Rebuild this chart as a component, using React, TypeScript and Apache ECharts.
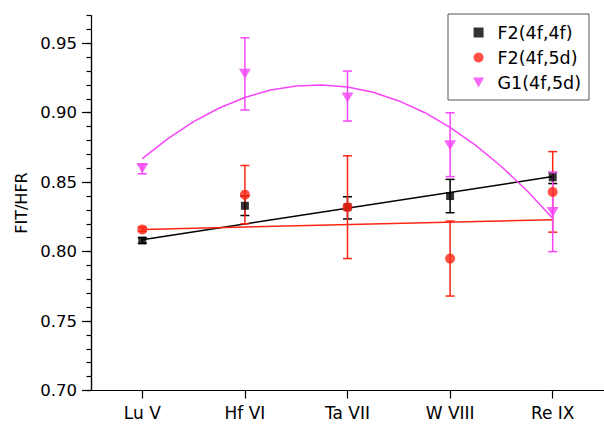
import React, { useEffect, useRef } from "react";
import * as echarts from "echarts";

const categories = ["Lu V", "Hf VI", "Ta VII", "W VIII", "Re IX"];
const catIndex = [0, 1, 2, 3, 4];

const seriesNames = ["F2(4f,4f)", "F2(4f,5d)", "G1(4f,5d)"];

// F2(4f,4f)
const f44Values = [0.808, 0.833, 0.832, 0.84, 0.8535];
const f44Low = [0.806, 0.826, 0.8235, 0.828, 0.849];
const f44High = [0.81, 0.84, 0.8395, 0.852, 0.857];
const f44FitX = [0, 4];
const f44FitY = [0.8085, 0.854];

// F2(4f,5d)
const f45Values = [0.816, 0.841, 0.832, 0.795, 0.843];
const f45Low = [0.8145, 0.82, 0.795, 0.768, 0.814];
const f45High = [0.8175, 0.862, 0.869, 0.822, 0.872];
const f45FitX = [0, 4];
const f45FitY = [0.816, 0.823];

// G1(4f,5d)
const g1Values = [0.86, 0.928, 0.911, 0.8765, 0.8285];
const g1Low = [0.856, 0.902, 0.894, 0.854, 0.8];
const g1High = [0.863, 0.954, 0.93, 0.9, 0.857];
const g1FitX = [0, 0.25, 0.5, 0.75, 1, 1.25, 1.5, 1.75, 2, 2.25, 2.5, 2.75, 3, 3.25, 3.5, 3.75, 4];
const g1FitY = [0.867, 0.8814, 0.8936, 0.9034, 0.911, 0.9163, 0.9193, 0.92, 0.9185, 0.9147, 0.9085, 0.9002, 0.8895, 0.8765, 0.8613, 0.8438, 0.824];

const BLACK = "#000000";
const RED = "#ff2414";
const MAGENTA = "#f844f8";
const FONT = "DejaVu Sans";
const TRI = "path://M0,0L10,0L5,9Z";
const SQR = "path://M0,0L10,0L10,10L0,10Z";

function points(xs: number[], ys: number[]) {
  return xs.map((x, i) => [x, ys[i]]);
}

function errData(lo: number[], hi: number[]) {
  return catIndex.map((x, i) => [x, lo[i], hi[i]]);
}

function errorSeries(name: string, lo: number[], hi: number[], color: string, z: number) {
  return {
    type: "custom",
    name,
    z,
    silent: true,
    clip: false,
    encode: { x: 0, y: [1, 2] },
    data: errData(lo, hi),
    renderItem: (params: any, api: any) => {
      const x = api.value(0);
      const p1 = api.coord([x, api.value(1)]);
      const p2 = api.coord([x, api.value(2)]);
      const cw = 4.5;
      const st = { stroke: color, lineWidth: 1.5 };
      return {
        type: "group",
        children: [
          { type: "line", shape: { x1: p1[0], y1: p1[1], x2: p2[0], y2: p2[1] }, style: st },
          { type: "line", shape: { x1: p1[0] - cw, y1: p1[1], x2: p1[0] + cw, y2: p1[1] }, style: st },
          { type: "line", shape: { x1: p2[0] - cw, y1: p2[1], x2: p2[0] + cw, y2: p2[1] }, style: st },
        ],
      };
    },
  };
}

export default function App() {
  const ref = useRef<HTMLDivElement>(null);
  useEffect(() => {
    if (!ref.current) return;
    const chart = echarts.init(ref.current, null, { renderer: "svg" });
    const axisLineStyle = { color: "#000", width: 1.2 };
    const option: any = {
      animation: false,
      backgroundColor: "#ffffff",
      grid: [
        { left: 91, top: 15.5, width: 520, bottom: 39.5, containLabel: false },
        // same plot, but its top edge sits at 0.95 so that major ticks stop there
        { left: 91, top: 43.28, width: 520, bottom: 39.5, containLabel: false },
      ],
      legend: {
        orient: "vertical",
        left: 448,
        top: 14,
        padding: [9, 8, 8, 25],
        itemGap: 6,
        itemWidth: 28,
        itemHeight: 10,
        borderColor: "#555555",
        borderWidth: 1,
        borderRadius: 0,
        backgroundColor: "#ffffff",
        data: [
          { name: seriesNames[0], icon: SQR, itemStyle: { color: BLACK } },
          { name: seriesNames[1], icon: "circle" },
          { name: seriesNames[2], icon: TRI },
        ],
        textStyle: { fontFamily: FONT, fontSize: 17.5, color: "#000", lineHeight: 19 },
      },
      xAxis: [
        {
          type: "value",
          gridIndex: 0,
          min: -0.5,
          max: 4.5,
          splitLine: { show: false },
          axisLine: { show: true, onZero: false, lineStyle: axisLineStyle },
          axisTick: { show: true, customValues: catIndex, length: 8, inside: false, lineStyle: axisLineStyle },
          axisLabel: {
            customValues: catIndex,
            formatter: (v: number) => categories[Math.round(v)] ?? "",
            fontFamily: FONT,
            fontSize: 17,
            color: "#000",
            margin: 14,
          },
        },
        {
          type: "value",
          gridIndex: 1,
          min: -0.5,
          max: 4.5,
          show: false,
        },
      ],
      yAxis: [
        {
          type: "value",
          gridIndex: 0,
          min: 0.7,
          max: 0.97,
          interval: 0.01,
          name: "FIT/HFR",
          nameLocation: "middle",
          nameGap: 62,
          nameTextStyle: { fontFamily: FONT, fontSize: 16, color: "#000" },
          splitLine: { show: false },
          axisLine: { show: true, onZero: false, lineStyle: axisLineStyle },
          axisTick: { show: true, length: 4.5, lineStyle: axisLineStyle },
          axisLabel: { show: false },
        },
        {
          type: "value",
          gridIndex: 1,
          min: 0.7,
          max: 0.95,
          interval: 0.05,
          splitLine: { show: false },
          axisLine: { show: true, onZero: false, lineStyle: axisLineStyle },
          axisTick: { show: true, length: 9, lineStyle: axisLineStyle },
          axisLabel: {
            formatter: (v: number) => v.toFixed(2),
            fontFamily: FONT,
            fontSize: 16.5,
            color: "#000",
            margin: 14,
          },
        },
      ],
      series: [
        {
          type: "line",
          name: "F2(4f,4f) fit",
          data: points(f44FitX, f44FitY),
          showSymbol: false,
          symbol: "none",
          lineStyle: { color: BLACK, width: 1.5 },
          z: 2,
          silent: true,
        },
        {
          type: "line",
          name: "F2(4f,5d) fit",
          data: points(f45FitX, f45FitY),
          showSymbol: false,
          symbol: "none",
          lineStyle: { color: RED, width: 1.5 },
          z: 2,
          silent: true,
        },
        {
          type: "line",
          name: "G1(4f,5d) fit",
          data: points(g1FitX, g1FitY),
          smooth: false,
          showSymbol: false,
          symbol: "none",
          lineStyle: { color: MAGENTA, width: 1.5 },
          z: 2,
          silent: true,
        },
        errorSeries("F2(4f,4f) err", f44Low, f44High, BLACK, 3),
        errorSeries("F2(4f,5d) err", f45Low, f45High, RED, 3),
        errorSeries("G1(4f,5d) err", g1Low, g1High, MAGENTA, 3),
        {
          type: "scatter",
          name: seriesNames[0],
          data: points(catIndex, f44Values),
          symbol: "rect",
          symbolSize: 8,
          itemStyle: { color: BLACK },
          z: 4,
        },
        {
          type: "scatter",
          name: seriesNames[1],
          data: points(catIndex, f45Values),
          symbol: "circle",
          symbolSize: 10,
          itemStyle: { color: RED },
          z: 4,
        },
        {
          type: "scatter",
          name: seriesNames[2],
          data: points(catIndex, g1Values),
          symbol: TRI,
          symbolSize: [12, 10],
          itemStyle: { color: MAGENTA },
          z: 4,
        },
      ],
    };
    chart.setOption(option);
    return () => chart.dispose();
  }, []);
  return (
    <div
      ref={ref}
      style={{ position: "fixed", left: 0, top: 0, width: 604, height: 430, background: "#fff" }}
    />
  );
}
